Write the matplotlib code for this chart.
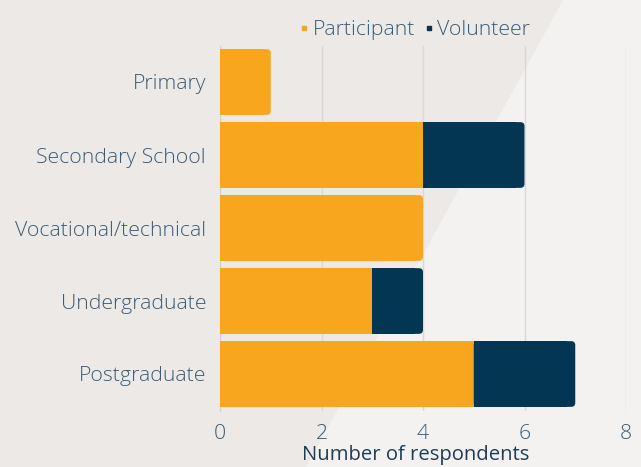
import matplotlib.pyplot as plt
import matplotlib.patches as mpatches
from matplotlib.lines import Line2D

categories = ["Primary", "Secondary School", "Vocational/technical", "Undergraduate", "Postgraduate"]
participant = [1, 4, 4, 3, 5]
volunteer = [0, 2, 0, 1, 2]
xticks = [0, 2, 4, 6, 8]

orange = "#F8A61D"
navy = "#033652"
text_col = "#3B5C78"

plt.rcParams['font.family'] = ['Open Sans', 'DejaVu Sans']

fig = plt.figure(figsize=(6.41, 4.67), dpi=100)
fig.patch.set_facecolor("#ECE9E6")

# lighter diagonal panel on the right
bg = fig.add_axes([0, 0, 1, 1], zorder=-10)
bg.set_xlim(0, 641)
bg.set_ylim(467, 0)
bg.axis("off")
bg.add_patch(mpatches.Polygon([(563, 0), (641, 0), (641, 467), (306, 467)],
                              closed=True, color="#F3F2F0", lw=0))

ax = fig.add_axes([220 / 641, 1 - 410.5 / 467, 406 / 641, 365 / 467])
ax.set_facecolor("none")

y = list(range(len(categories)))
b1 = ax.barh(y, participant, height=0.9, color=orange, zorder=3)
b2 = ax.barh(y, volunteer, left=participant, height=0.9, color=navy, zorder=3)

# round the right end of the outer segment of each bar
r = 0.08
for p, v, rp, rv in zip(participant, volunteer, b1.patches, b2.patches):
    rect = rv if v > 0 else rp
    x0, y0 = rect.get_x(), rect.get_y()
    w, h = rect.get_width(), rect.get_height()
    fb = mpatches.FancyBboxPatch((x0, y0), w, h, boxstyle=f"round,pad=0,rounding_size={r}",
                                 mutation_aspect=0.7, color=rect.get_facecolor(), lw=0, zorder=3)
    ax.add_patch(fb)
    rect.set_width(w - 2 * r)
    rect.set_zorder(4)

ax.set_yticks(y)
ax.set_yticklabels(categories, fontsize=15.3, color=text_col, fontweight="light")
ax.set_ylim(4.5, -0.5)
ax.set_xlim(0, 8)
ax.set_xticks(xticks)
ax.set_xticklabels([str(t) for t in xticks], fontsize=15.3, color=text_col, fontweight="light")
ax.tick_params(axis="y", length=0, pad=10)
ax.tick_params(axis="x", length=0, pad=10)
ax.grid(axis="x", color="#DAD8D5", lw=1, zorder=0)
for s in ["top", "right", "bottom"]:
    ax.spines[s].set_visible(False)
ax.spines["left"].set_color("#D5D3D0")
ax.set_xlabel("Number of respondents", fontsize=14.6, color="#1E3D5A", labelpad=0)
ax.xaxis.set_label_coords((415.5 - 220) / 406, -(455 - 410.5) / 365, transform=None)
ax.xaxis.label.set_transform(ax.transAxes)
ax.xaxis.label.set_va("center")

handles = [Line2D([], [], marker="s", ls="", color=orange, markersize=3.5),
           Line2D([], [], marker="s", ls="", color=navy, markersize=3.5)]
fig.legend(handles, ["Participant", "Volunteer"], loc="center", bbox_to_anchor=(415 / 641, 1 - 30 / 467),
           ncol=2, frameon=False, labelcolor=text_col, handlelength=0.4,
           handletextpad=0.2, columnspacing=0.45, prop={"weight": "light", "size": 15.3})

fig.savefig("out.png", dpi=100, facecolor=fig.get_facecolor())
